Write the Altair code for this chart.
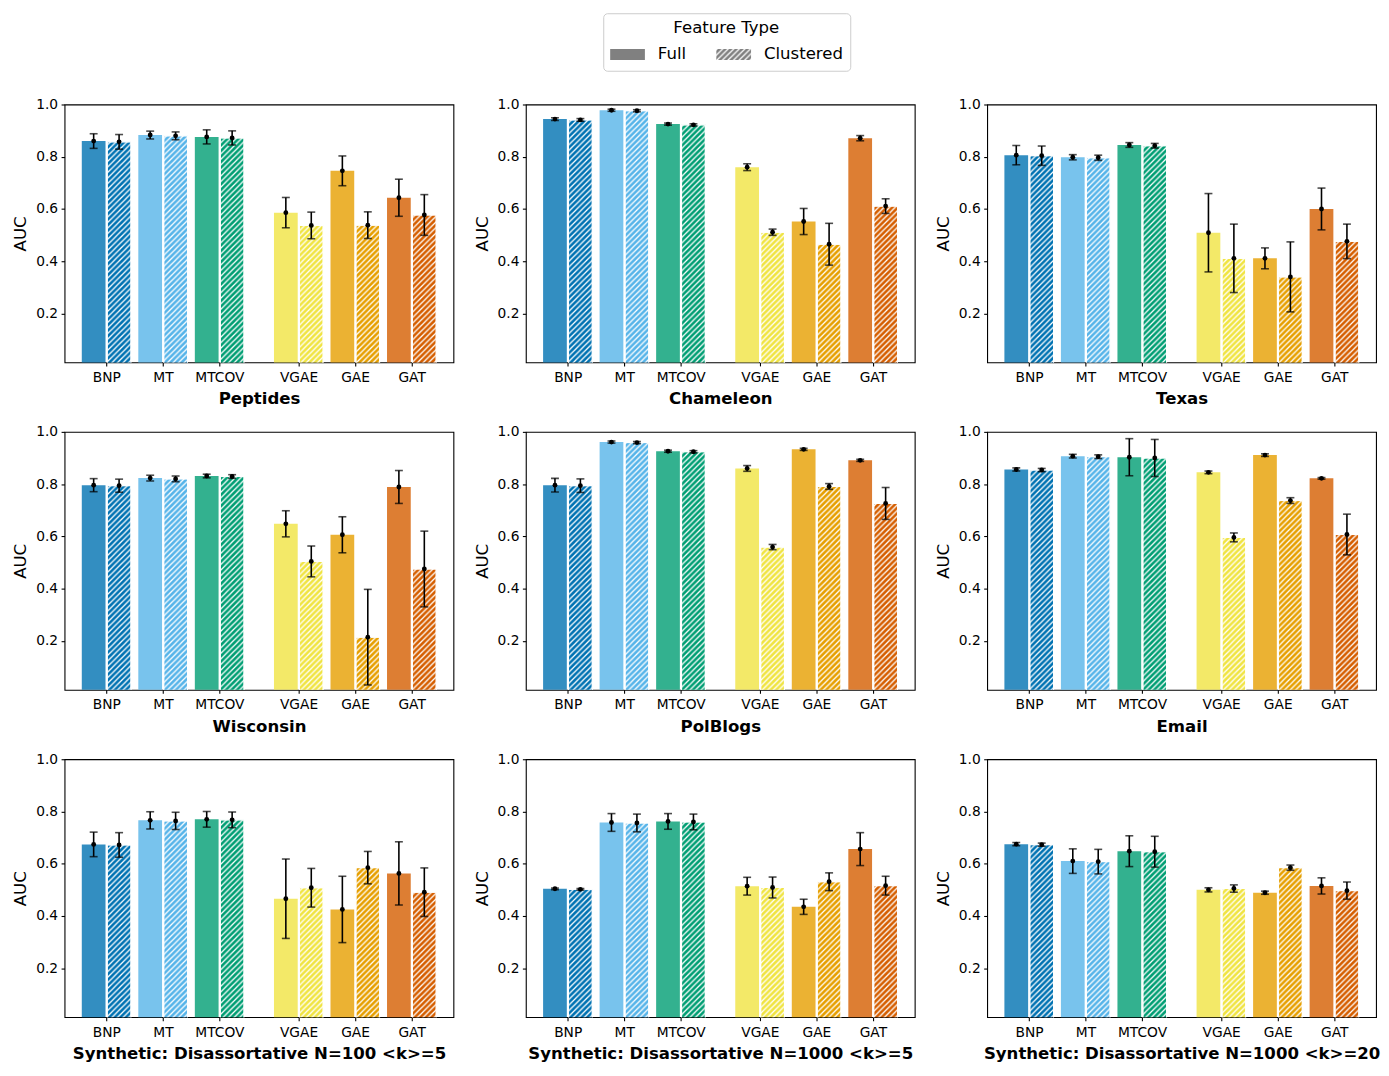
import json
import altair as alt
import pandas as pd
import jinja2

# ---------------- data ----------------
MODELS = ["BNP", "MT", "MTCOV", "VGAE", "GAE", "GAT"]
COLORS = ["#0072B2", "#56B4E9", "#009E73", "#F0E442", "#E69F00", "#D55E00"]
FEATURES = ["Full", "Clustered"]
DATASETS = [
    "Peptides", "Chameleon", "Texas",
    "Wisconsin", "PolBlogs", "Email",
    "Synthetic: Disassortative N=100 <k>=5",
    "Synthetic: Disassortative N=1000 <k>=5",
    "Synthetic: Disassortative N=1000 <k>=20",
]

peptides_full = [0.860, 0.883, 0.876, 0.586, 0.746, 0.643]
peptides_full_err = [0.028, 0.015, 0.027, 0.058, 0.057, 0.071]
peptides_clu = [0.857, 0.880, 0.872, 0.537, 0.538, 0.577]
peptides_clu_err = [0.028, 0.015, 0.027, 0.051, 0.051, 0.078]

chameleon_full = [0.944, 0.978, 0.925, 0.760, 0.552, 0.871]
chameleon_full_err = [0.005, 0.004, 0.004, 0.013, 0.050, 0.010]
chameleon_clu = [0.941, 0.976, 0.922, 0.511, 0.465, 0.611]
chameleon_clu_err = [0.005, 0.004, 0.004, 0.012, 0.080, 0.028]

texas_full = [0.806, 0.798, 0.845, 0.509, 0.411, 0.600]
texas_full_err = [0.037, 0.010, 0.009, 0.150, 0.040, 0.080]
texas_clu = [0.804, 0.796, 0.842, 0.411, 0.340, 0.476]
texas_clu_err = [0.037, 0.010, 0.009, 0.131, 0.134, 0.066]

wisconsin_full = [0.796, 0.823, 0.831, 0.648, 0.606, 0.789]
wisconsin_full_err = [0.025, 0.011, 0.007, 0.050, 0.069, 0.063]
wisconsin_clu = [0.794, 0.820, 0.829, 0.504, 0.214, 0.475]
wisconsin_clu_err = [0.025, 0.011, 0.007, 0.059, 0.183, 0.145]

polblogs_full = [0.796, 0.961, 0.926, 0.860, 0.933, 0.891]
polblogs_full_err = [0.026, 0.004, 0.004, 0.011, 0.004, 0.004]
polblogs_clu = [0.794, 0.959, 0.924, 0.559, 0.791, 0.726]
polblogs_clu_err = [0.026, 0.004, 0.004, 0.010, 0.011, 0.061]

email_full = [0.856, 0.907, 0.903, 0.845, 0.911, 0.822]
email_full_err = [0.006, 0.007, 0.071, 0.005, 0.005, 0.003]
email_clu = [0.854, 0.905, 0.900, 0.596, 0.737, 0.607]
email_clu_err = [0.006, 0.007, 0.071, 0.017, 0.011, 0.078]

syn100_k5_full = [0.674, 0.766, 0.770, 0.466, 0.425, 0.563]
syn100_k5_full_err = [0.047, 0.033, 0.030, 0.152, 0.127, 0.121]
syn100_k5_clu = [0.672, 0.764, 0.768, 0.508, 0.585, 0.491]
syn100_k5_clu_err = [0.047, 0.033, 0.030, 0.074, 0.062, 0.093]

syn1000_k5_full = [0.504, 0.758, 0.762, 0.514, 0.435, 0.656]
syn1000_k5_full_err = [0.003, 0.034, 0.030, 0.034, 0.029, 0.063]
syn1000_k5_clu = [0.502, 0.756, 0.760, 0.509, 0.531, 0.516]
syn1000_k5_clu_err = [0.003, 0.034, 0.030, 0.040, 0.034, 0.036]

syn1000_k20_full = [0.675, 0.610, 0.648, 0.500, 0.489, 0.515]
syn1000_k20_full_err = [0.006, 0.047, 0.059, 0.008, 0.006, 0.031]
syn1000_k20_clu = [0.673, 0.608, 0.646, 0.505, 0.585, 0.497]
syn1000_k20_clu_err = [0.006, 0.047, 0.059, 0.014, 0.010, 0.033]

SERIES = [
    (peptides_full, peptides_full_err, peptides_clu, peptides_clu_err),
    (chameleon_full, chameleon_full_err, chameleon_clu, chameleon_clu_err),
    (texas_full, texas_full_err, texas_clu, texas_clu_err),
    (wisconsin_full, wisconsin_full_err, wisconsin_clu, wisconsin_clu_err),
    (polblogs_full, polblogs_full_err, polblogs_clu, polblogs_clu_err),
    (email_full, email_full_err, email_clu, email_clu_err),
    (syn100_k5_full, syn100_k5_full_err, syn100_k5_clu, syn100_k5_clu_err),
    (syn1000_k5_full, syn1000_k5_full_err, syn1000_k5_clu, syn1000_k5_clu_err),
    (syn1000_k20_full, syn1000_k20_full_err, syn1000_k20_clu, syn1000_k20_clu_err),
]

# ---------------- layout / style ----------------
FONT = "DejaVu Sans"
GAP = 0.4          # extra space between the two model families
SPLIT = 3          # first index of the second family
BAR_W = 0.42
OFF = 0.225
PW, PH = 392, 260

tick_positions = [i + (GAP if i >= SPLIT else 0) for i in range(len(MODELS))]
label_expr = (
    json.dumps(MODELS)
    + f"[round(datum.value >= {SPLIT} ? datum.value - {GAP} : datum.value)]"
)


def panel(title, full, full_err, clu, clu_err, with_legend=False):
    rows = []
    for i, m in enumerate(MODELS):
        rows.append(dict(Model=m, idx=i, Feature="Full", AUC=full[i], err=full_err[i]))
        rows.append(dict(Model=m, idx=i, Feature="Clustered", AUC=clu[i], err=clu_err[i]))
    df = pd.DataFrame(rows)

    base = alt.Chart(df).transform_calculate(
        pos=f"datum.idx + (datum.idx >= {SPLIT} ? {GAP} : 0)",
        xc=f"datum.pos + (datum.Feature == 'Full' ? {-OFF} : {OFF})",
        x0=f"datum.xc - {BAR_W / 2}",
        x1=f"datum.xc + {BAR_W / 2}",
        lo="datum.AUC - datum.err",
        hi="datum.AUC + datum.err",
    )

    xscale = alt.Scale(domain=[-0.74, 6.14], nice=False, zero=False)
    yscale = alt.Scale(domain=[0.0125, 1.0], nice=False, zero=False)
    xaxis = alt.Axis(values=tick_positions, labelExpr=label_expr, title=title,
                     grid=False, titleFontWeight="bold", labelPadding=4.5, titlePadding=7)
    yaxis = alt.Axis(values=[0.2, 0.4, 0.6, 0.8, 1.0], format=".1f", title="AUC", grid=False)

    color = alt.Color("Model:N", scale=alt.Scale(domain=MODELS, range=COLORS), legend=None)

    full_bars = base.transform_filter("datum.Feature == 'Full'").mark_bar(
        opacity=0.8, clip=True
    ).encode(
        x=alt.X("x0:Q", scale=xscale, axis=xaxis),
        x2="x1:Q",
        y=alt.Y("AUC:Q", scale=yscale, axis=yaxis),
        y2=alt.datum(0),
        color=color,
    )
    clu_bars = base.transform_filter("datum.Feature == 'Clustered'").mark_bar(
        clip=True, stroke="white", strokeWidth=1
    ).encode(x="x0:Q", x2="x1:Q", y="AUC:Q", y2=alt.datum(0), color=color)
    clu_hatch = base.transform_filter("datum.Feature == 'Clustered'").mark_bar(
        clip=True, fill="url(#hatch)", stroke="white", strokeWidth=1
    ).encode(x="x0:Q", x2="x1:Q", y="AUC:Q", y2=alt.datum(0))

    err_line = base.mark_rule(color="black", strokeWidth=1.6).encode(
        x="xc:Q", y="lo:Q", y2="hi:Q"
    )
    cap_lo = base.mark_tick(color="black", orient="horizontal", size=8, thickness=1.6).encode(
        x="xc:Q", y="lo:Q"
    )
    cap_hi = base.mark_tick(color="black", orient="horizontal", size=8, thickness=1.6).encode(
        x="xc:Q", y="hi:Q"
    )
    dots = base.mark_circle(color="black", size=24, opacity=1).encode(x="xc:Q", y="AUC:Q")

    layers = [full_bars, clu_bars, clu_hatch, err_line, cap_lo, cap_hi, dots]

    if with_legend:
        legend_layer = base.mark_bar(opacity=0).encode(
            x="x0:Q", x2="x1:Q", y="AUC:Q", y2=alt.datum(0),
            fill=alt.Fill(
                "Feature:N",
                scale=alt.Scale(domain=FEATURES, range=["#808080", "url(#hatchgray)"]),
                legend=alt.Legend(
                    title="Feature Type",
                    orient="none",
                    legendX=543,
                    legendY=-92,
                    direction="horizontal",
                    symbolType="M-1,-0.314H1V0.314H-1Z",
                    symbolSize=1225,
                    symbolOpacity=1,
                    symbolStrokeWidth=0,
                    titleFontSize=16.7,
                    titleFontWeight="normal",
                    titleAnchor="middle",
                    titleAlign="center",
                    titleColor="black",
                    titlePadding=0,
                    labelFontSize=16.7,
                    labelColor="black",
                    labelOffset=13,
                    columnPadding=30,
                    padding=7,
                    strokeColor="#cccccc",
                    fillColor="white",
                    cornerRadius=4,
                ),
            ),
        )
        layers.append(legend_layer)

    return alt.layer(*layers).properties(width=PW, height=PH)


panels = [
    panel(DATASETS[k], *SERIES[k], with_legend=(k == 0)) for k in range(len(DATASETS))
]

chart = alt.concat(
    *panels, columns=3, spacing={"row": 15, "column": 19}
).properties(
    padding={"left": 4, "top": 0, "right": 0, "bottom": 5}
).configure(
    font=FONT,
).configure_view(
    stroke="black", strokeWidth=1.1
).configure_axis(
    labelFont=FONT, titleFont=FONT,
    labelFontSize=13.9, titleFontSize=16.7,
    labelColor="black", titleColor="black",
    tickColor="black", tickSize=3.5, tickWidth=1.1,
    domain=False, labelPadding=3.5, titlePadding=6,
).configure_axisY(
    titleFontWeight="normal",
).configure_legend(
    labelFont=FONT, titleFont=FONT,
)

# ---------------- hatch patterns (SVG defs referenced by fill="url(#...)") ----------------
HP = 5.6
PATTERN_SVG = f"""
<svg width="0" height="0" style="position:absolute;width:0;height:0;overflow:hidden" aria-hidden="true">
  <defs>
    <pattern id="hatch" patternUnits="userSpaceOnUse" width="{HP}" height="{HP}">
      <path d="M-1,1 L1,-1 M0,{HP} L{HP},0 M{HP-1},{HP+1} L{HP+1},{HP-1}" stroke="#ffffff" stroke-width="1.3"/>
    </pattern>
    <pattern id="hatchgray" patternUnits="userSpaceOnUse" width="{HP}" height="{HP}">
      <rect width="{HP}" height="{HP}" fill="#808080"/>
      <path d="M-1,1 L1,-1 M0,{HP} L{HP},0 M{HP-1},{HP+1} L{HP+1},{HP-1}" stroke="#ffffff" stroke-width="1.3"/>
    </pattern>
  </defs>
</svg>
"""

TEMPLATE = jinja2.Template("""<!DOCTYPE html>
<html>
<head>
  <meta charset="utf-8">
  <style>
    #{{ output_div }}.vega-embed {
      width: 100%;
      display: flex;
    }
    #{{ output_div }}.vega-embed details,
    #{{ output_div }}.vega-embed details summary {
      position: relative;
    }
  </style>
  <script type="text/javascript" src="{{ base_url }}/vega@{{ vega_version }}"></script>
  <script type="text/javascript" src="{{ base_url }}/vega-lite@{{ vegalite_version }}"></script>
  <script type="text/javascript" src="{{ base_url }}/vega-embed@{{ vegaembed_version }}"></script>
</head>
<body>
""" + PATTERN_SVG + """
  <div id="{{ output_div }}"></div>
  <script>
    (function(vegaEmbed) {
      var spec = {{ spec }};
      var embedOpt = {{ embed_options }};
      function showError(el, error){
          el.innerHTML = ('<div style="color:red;"><p>JavaScript Error: ' + error.message + '</p></div>');
          throw error;
      }
      const el = document.getElementById('{{ output_div }}');
      vegaEmbed("#{{ output_div }}", spec, embedOpt)
        .catch(error => showError(el, error));
    })(vegaEmbed);
  </script>
</body>
</html>
""")

try:
    chart.save("out.html", embed_options={"renderer": "svg", "actions": False}, template=TEMPLATE)
except Exception:
    chart.save("out.html", embed_options={"renderer": "svg", "actions": False})
